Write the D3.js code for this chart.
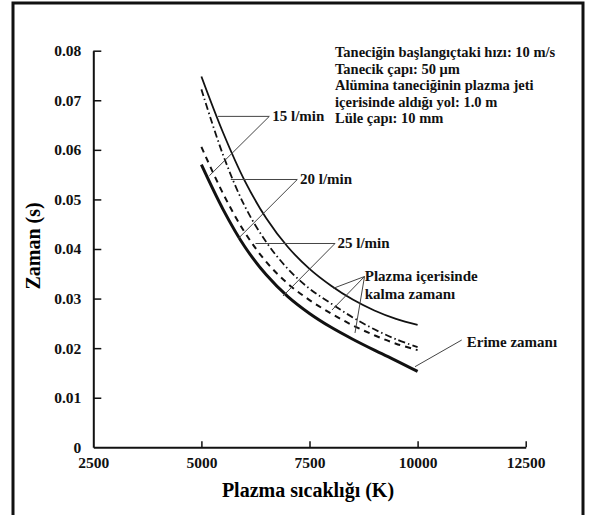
<!DOCTYPE html>
<html>
<head>
<meta charset="utf-8">
<script src="https://cdn.jsdelivr.net/npm/d3@7"></script>
<style>
  body { margin: 0; background: #fff; }
  .axis path, .axis line { stroke: #111; }
</style>
</head>
<body>
<div id="chart"></div>
<script>
      var w = 589;
      var h = 515;
      var serif = "'Liberation Serif', 'Times New Roman', Times, serif";

      // plasma temperature (K)
      var temps = [5000, 5500, 6000, 6500, 7000, 7500, 8000, 8500, 9000, 9500, 10000];

      // residence time in plasma (s) for 15, 20, 25 l/min, and melting time
      var time15 = [0.0748, 0.0635, 0.0538, 0.0462, 0.0404, 0.0360, 0.0326, 0.0298, 0.0276, 0.0259, 0.0247];
      var time20 = [0.0722, 0.0590, 0.0487, 0.0414, 0.0360, 0.0320, 0.0290, 0.0262, 0.0238, 0.0218, 0.0202];
      var time25 = [0.0606, 0.0512, 0.0434, 0.0374, 0.0330, 0.0297, 0.0270, 0.0246, 0.0226, 0.0209, 0.0196];
      var meltTime = [0.0570, 0.0480, 0.0405, 0.0348, 0.0304, 0.0270, 0.0242, 0.0218, 0.0196, 0.0175, 0.0153];

      var xTicks = [2500, 5000, 7500, 10000, 12500];
      var xTickLabels = ["2500", "5000", "7500", "10000", "12500"];
      var yTicks = [0, 0.01, 0.02, 0.03, 0.04, 0.05, 0.06, 0.07, 0.08];
      var yTickLabels = ["0", "0.01", "0.02", "0.03", "0.04", "0.05", "0.06", "0.07", "0.08"];

      var infoLines = ["Taneciğin başlangıçtaki hızı: 10 m/s",
                       "Tanecik çapı: 50 μm",
                       "Alümina taneciğinin plazma jeti",
                       "içerisinde aldığı yol: 1.0 m",
                       "Lüle çapı: 10 mm"];

      // annotation leaders, in data units [T, t]
      var leaders = [
        [[5384, 0.06675], [6570, 0.06675], [5185, 0.05479]],
        [[5678, 0.05402], [7218, 0.05402], [5853, 0.04212]],
        [[6251, 0.04111], [8090, 0.04111], [6887, 0.03052]],
        [[8050, 0.03207], [8772, 0.03445], [8020, 0.02770]],
        [[8772, 0.03445], [8552, 0.02306]],
        [[11020, 0.02164], [9940, 0.01626]]
      ];
      var labels = [
        ["15 l/min", 6639, 0.0668],
        ["20 l/min", 7280, 0.0541],
        ["25 l/min", 8148, 0.0412],
        ["Plazma içerisinde", 8778, 0.0346],
        ["kalma zamanı", 8778, 0.0309],
        ["Erime zamanı", 11136, 0.0213]
      ];

      var xScale = d3.scaleLinear()
                     .domain([2500, 12500])
                     .range([93.3, 525.7]);

      var yScale = d3.scaleLinear()
                     .domain([0, 0.08])
                     .range([447.3, 50.7]);

      var svg = d3.select("#chart")
            .append("svg")
            .attr("width", w)
            .attr("height", h);

      //outer frame
      svg.append("rect")
         .attr("x", 13)
         .attr("y", 3)
         .attr("width", 570)
         .attr("height", 530)
         .attr("fill", "none")
         .attr("stroke", "#111")
         .attr("stroke-width", 3);

      //axes
      var xAxis = d3.axisBottom(xScale)
                    .tickValues(xTicks)
                    .tickFormat(function(d, i) { return xTickLabels[i]; })
                    .tickSizeInner(-6)
                    .tickSizeOuter(0)
                    .tickPadding(10);

      var yAxis = d3.axisLeft(yScale)
                    .tickValues(yTicks)
                    .tickFormat(function(d, i) { return yTickLabels[i]; })
                    .tickSizeInner(-8)
                    .tickSizeOuter(0)
                    .tickPadding(12);

      var gx = svg.append("g")
         .attr("class", "axis")
         .attr("transform", "translate(0," + yScale(0) + ")")
         .call(xAxis);

      var gy = svg.append("g")
         .attr("class", "axis")
         .attr("transform", "translate(" + xScale(2500) + ",0)")
         .call(yAxis);

      svg.selectAll(".axis path").attr("stroke-width", 2);
      svg.selectAll(".axis line").attr("stroke-width", 1.5);
      svg.selectAll(".axis")
         .attr("font-family", serif)
         .attr("font-size", 15.5)
         .attr("font-weight", "bold");
      svg.selectAll(".axis text").attr("fill", "#111");
      gx.select(".tick:first-of-type line").remove();
      gy.select(".tick:first-of-type line").remove();

      //axis titles
      svg.append("text")
         .attr("x", 308)
         .attr("y", 497)
         .attr("text-anchor", "middle")
         .attr("font-family", serif)
         .attr("font-weight", "bold")
         .attr("font-size", 20)
         .text("Plazma sıcaklığı (K)");

      svg.append("text")
         .attr("transform", "translate(40,246) rotate(-90)")
         .attr("text-anchor", "middle")
         .attr("font-family", serif)
         .attr("font-weight", "bold")
         .attr("font-size", 20)
         .text("Zaman (s)");

      //curves
      var line = d3.line()
                   .x(function(d) { return xScale(d[0]); })
                   .y(function(d) { return yScale(d[1]); })
                   .curve(d3.curveCatmullRom.alpha(0.5));

      var series = [
        { values: time15, width: 1.8, dash: null },
        { values: time20, width: 1.8, dash: "7,3,1.5,3" },
        { values: time25, width: 2, dash: "6,5" },
        { values: meltTime, width: 3, dash: null }
      ];

      svg.selectAll(".curve")
         .data(series)
         .enter()
         .append("path")
         .attr("class", "curve")
         .attr("d", function(s) {
            return line(temps.map(function(T, i) { return [T, s.values[i]]; }));
         })
         .attr("fill", "none")
         .attr("stroke", "#111")
         .attr("stroke-width", function(s) { return s.width; })
         .attr("stroke-dasharray", function(s) { return s.dash; });

      //leader lines
      var leaderLine = d3.line()
                         .x(function(d) { return xScale(d[0]); })
                         .y(function(d) { return yScale(d[1]); });

      svg.selectAll(".leader")
         .data(leaders)
         .enter()
         .append("path")
         .attr("class", "leader")
         .attr("d", leaderLine)
         .attr("fill", "none")
         .attr("stroke", "#444")
         .attr("stroke-width", 1);

      svg.selectAll(".lbl")
         .data(labels)
         .enter()
         .append("text")
         .attr("class", "lbl")
         .attr("x", function(d) { return xScale(d[1]); })
         .attr("y", function(d) { return yScale(d[2]); })
         .attr("dy", "0.35em")
         .attr("font-family", serif)
         .attr("font-weight", "bold")
         .attr("font-size", 15)
         .attr("fill", "#111")
         .text(function(d) { return d[0]; });

      //info block
      svg.append("g")
         .selectAll("text")
         .data(infoLines)
         .enter()
         .append("text")
         .attr("x", 335)
         .attr("y", function(d, i) { return 52 + i * 16.5; })
         .attr("dy", "0.35em")
         .attr("font-family", serif)
         .attr("font-weight", "bold")
         .attr("font-size", 14.5)
         .attr("fill", "#111")
         .text(function(d) { return d; });
</script>
</body>
</html>
